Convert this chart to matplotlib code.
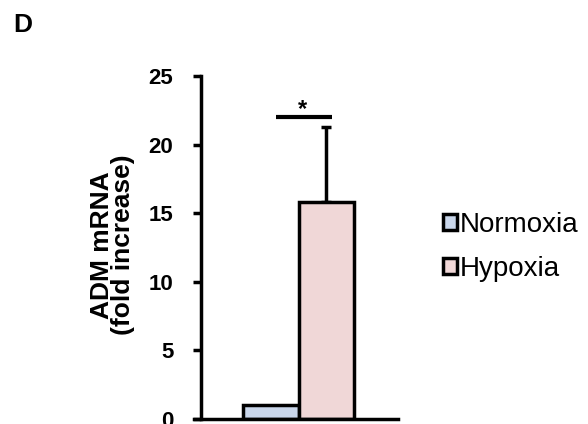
import matplotlib
matplotlib.use("Agg")
import matplotlib.pyplot as plt
from matplotlib.patches import Patch
from matplotlib import font_manager

names = {f.name for f in font_manager.fontManager.ttflist}
narrow = "Liberation Sans Narrow" if "Liberation Sans Narrow" in names else "Liberation Sans"
plt.rcParams['font.family'] = ['Liberation Sans', 'DejaVu Sans']

categories = ["Normoxia", "Hypoxia"]
values = [1.0, 15.8]
errors = [0.0, 5.5]
colors = ["#c9d6ea", "#f0d7d7"]
yticks = [0, 5, 10, 15, 20, 25]
sig_y = 22.0
sig_label = "*"

fig = plt.figure(figsize=(5.88, 4.24), dpi=100)
ax = fig.add_axes([194/588, 1-419/424, (398-194)/588, (419-76)/424])

xs = [0, 1]
ax.bar(xs, values, width=1.0, color=colors, edgecolor="black", linewidth=2.5, zorder=2)
ax.errorbar([xs[1]], [values[1]], yerr=[[0], [errors[1]]], fmt="none",
            ecolor="black", elinewidth=2.5, capsize=3.6, capthick=2.5, zorder=1)

ax.plot([0.09, 1.10], [sig_y, sig_y], color="black", linewidth=3, clip_on=False,
        solid_capstyle="butt")
ax.text(0.56, sig_y - 0.25, sig_label, ha="center", va="bottom", fontsize=17, fontweight="bold")

for s in ["top", "right"]:
    ax.spines[s].set_visible(False)
ax.spines["left"].set_position(("data", -1.26))
ax.spines["left"].set_linewidth(2.5)
ax.spines["bottom"].set_linewidth(2.5)

ax.set_xlim(-1.39, 2.29)
ax.set_ylim(0, 25)
ax.spines["left"].set_bounds(0, 25)
ax.set_yticks(yticks)
ax.set_yticklabels([str(t) for t in yticks])
for lab in ax.get_yticklabels():
    lab.set_fontfamily([narrow, 'DejaVu Sans'])
    lab.set_fontsize(16)
    lab.set_fontweight("bold")
ax.set_xticks([])
ax.tick_params(axis="y", length=6, width=2.5, direction="out", pad=14)

ax.set_ylabel("ADM mRNA\n(fold increase)", fontsize=19, fontweight="bold", linespacing=0.82)
ax.yaxis.set_label_coords(135/588, 1 - 245/424, transform=fig.transFigure)

handles = [Patch(facecolor=c, edgecolor="black", linewidth=2.5) for c in colors]
fig.legend(handles, categories, loc="center left", bbox_to_anchor=(443/588, 1-247/424),
           frameon=False, fontsize=20, handlelength=0.5, handleheight=0.5,
           handletextpad=0.12, labelspacing=0.65, borderpad=0, borderaxespad=0)

fig.text(13/588, 1-25/424, "D", fontsize=19, fontweight="bold", va="center", ha="left",
         family=[narrow, 'DejaVu Sans'])

fig.savefig("out.png", dpi=100)
